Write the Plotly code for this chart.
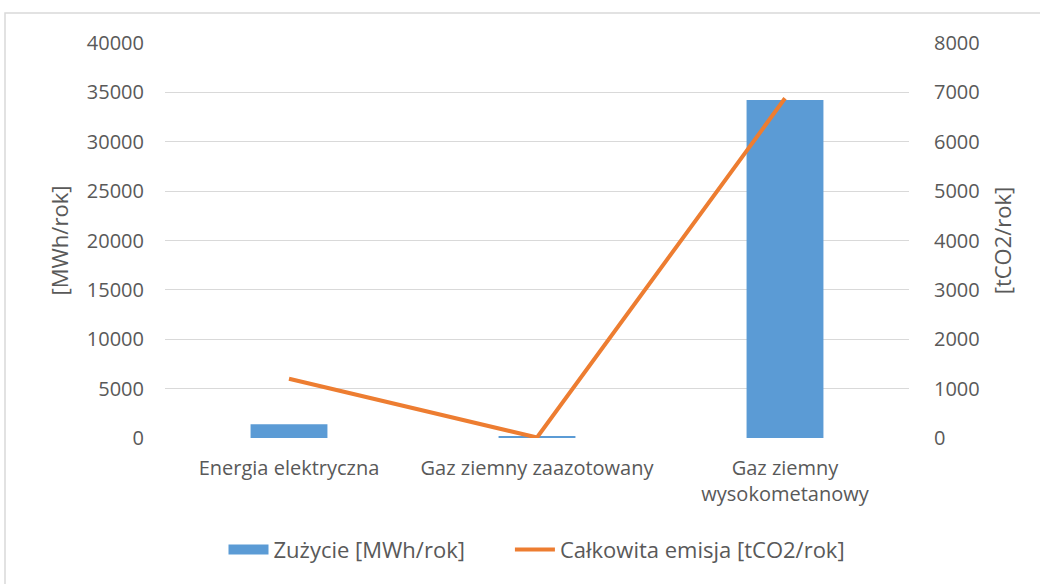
import plotly.graph_objects as go

categories = ["Energia elektryczna", "Gaz ziemny zaazotowany", "Gaz ziemny<br>wysokometanowy"]
zuzycie = [1400, 120, 34230]          # MWh/rok
emisja = [1200, 10, 6880]             # tCO2/rok

left_ticks = list(range(0, 40001, 5000))
right_ticks = list(range(0, 8001, 1000))

font_family = "Open Sans, Segoe UI, Liberation Sans, sans-serif"
text_color = "#595959"
grid_color = "#d9d9d9"
bar_color = "#5B9BD5"
line_color = "#ED7D31"
legend_pad = "\u00a0" * 7

fig = go.Figure()
fig.add_trace(go.Bar(
    x=categories, y=zuzycie, name="Zużycie [MWh/rok]",
    marker=dict(color=bar_color, line=dict(width=0)),
    yaxis="y", showlegend=False, legendgroup="zuzycie",
))
# wide rectangular swatch for the bar series in the legend
fig.add_trace(go.Scatter(
    x=[None], y=[None], name="Zużycie [MWh/rok]" + legend_pad, mode="lines",
    line=dict(color=bar_color, width=11), legendgroup="zuzycie",
))
fig.add_trace(go.Scatter(
    x=categories, y=emisja, name="Całkowita emisja [tCO2/rok]",
    mode="lines", line=dict(color=line_color, width=4),
    yaxis="y2",
))

fig.update_layout(
    width=1040, height=584,
    margin=dict(l=165, r=131, t=43, b=146),
    paper_bgcolor="white", plot_bgcolor="white",
    font=dict(family=font_family, size=20, color=text_color),
    bargap=0.69,
    showlegend=True,
    legend=dict(orientation="h", x=0.5, xanchor="center", y=-0.283, yanchor="middle",
                font=dict(size=22, color=text_color), itemwidth=40, tracegroupgap=0),
    xaxis=dict(showgrid=False, showline=False, ticks="", ticklabelstandoff=16,
               tickfont=dict(size=20, color=text_color)),
    yaxis=dict(
        range=[0, 40000], tickvals=left_ticks, ticktext=[str(v) for v in left_ticks],
        showgrid=True, gridcolor=grid_color, gridwidth=1, zeroline=False,
        ticklabelstandoff=20, tickfont=dict(size=20, color=text_color),
        title=dict(text="[MWh/rok]", font=dict(size=22, color=text_color), standoff=12),
    ),
    yaxis2=dict(
        range=[0, 8000], tickvals=right_ticks, ticktext=[str(v) for v in right_ticks],
        overlaying="y", side="right", showgrid=False, zeroline=False,
        ticklabelstandoff=24, tickfont=dict(size=20, color=text_color),
        title=dict(text="[tCO2/rok]", font=dict(size=22, color=text_color), standoff=16),
    ),
    shapes=[dict(
        type="rect", xref="paper", yref="paper",
        x0=(5 - 165) / 744, x1=(1045 - 165) / 744,
        y0=-0.5, y1=1 + (43 - 13) / 395,
        line=dict(color="#d9d9d9", width=1.5), fillcolor="rgba(0,0,0,0)", layer="below",
    )],
)

fig.write_html("out.html")
